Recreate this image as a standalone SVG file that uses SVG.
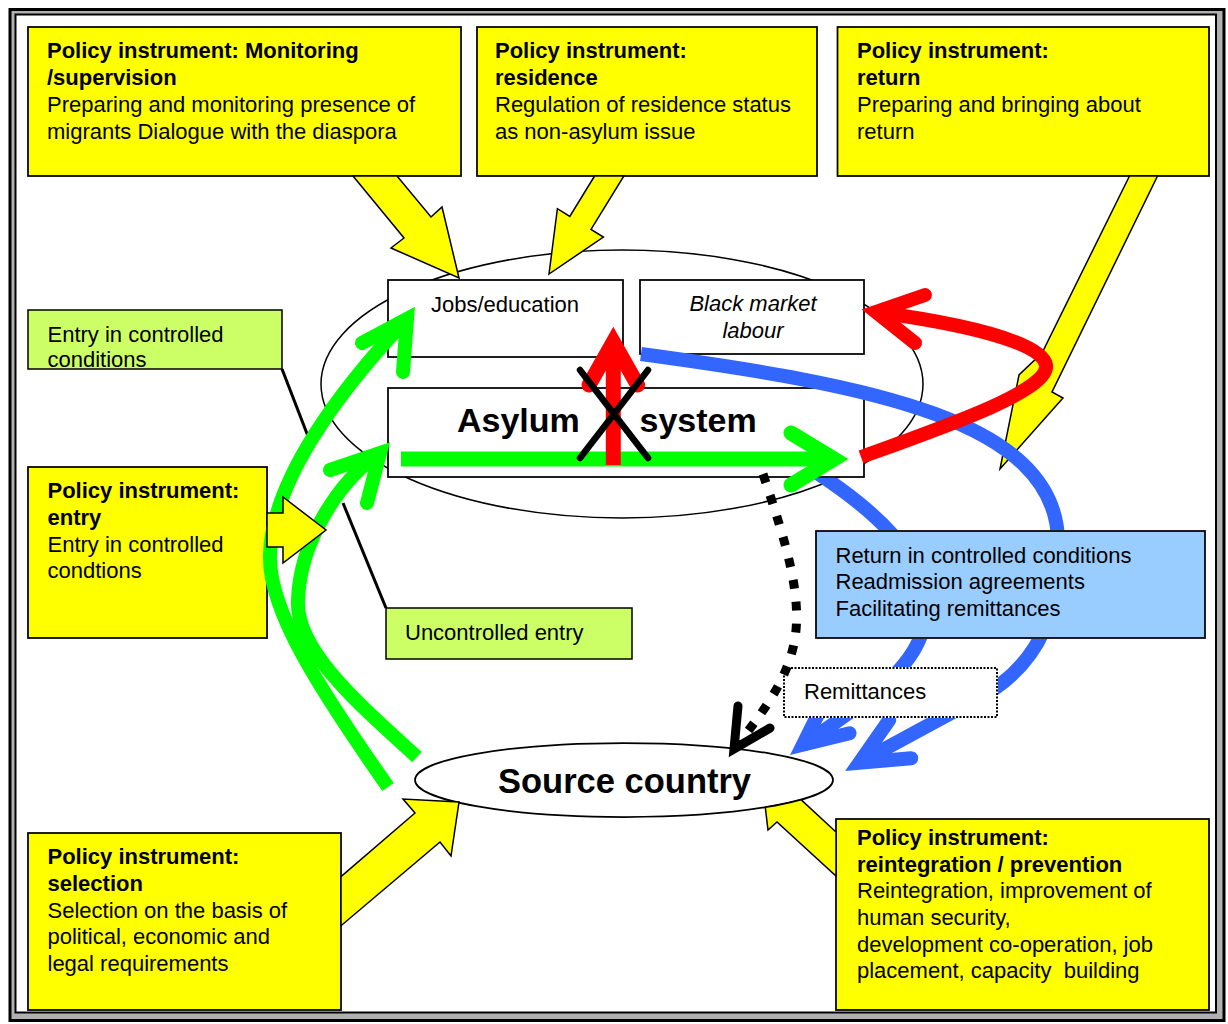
<svg xmlns="http://www.w3.org/2000/svg" width="1228" height="1024" viewBox="0 0 1228 1024">
<style>
.box{stroke:#000;stroke-width:1.75}
.y{fill:#ffff00}.w{fill:#fff}.lg{fill:#ccff66}.lb{fill:#99ccff}
.t{font-family:"Liberation Sans",Arial,Helvetica,sans-serif;font-size:22px;fill:#000}
.b{font-weight:bold}
.big{font-family:"Liberation Sans",Arial,Helvetica,sans-serif;font-size:34px;font-weight:bold;fill:#000}
.ya{fill:#ffff00;stroke:#000;stroke-width:1.5;stroke-linejoin:miter}
.g{fill:none;stroke:#00ff00;stroke-width:14}
.r{fill:none;stroke:#ff0000;stroke-width:14}
.bl{fill:none;stroke:#3366ff;stroke-width:14}
.hd{stroke-linecap:round;stroke-linejoin:miter;stroke-miterlimit:10}
.lead{stroke:#000;stroke-width:3;fill:none}
</style>
<defs>
<mask id="mBlue1" maskUnits="userSpaceOnUse" x="0" y="0" width="1228" height="1024">
<rect width="1228" height="1024" fill="#fff"/>
<rect x="815" y="530" width="391" height="109" fill="#000"/>
<rect x="783" y="667" width="215" height="51" fill="#000"/>
</mask>
<mask id="mBlue2" maskUnits="userSpaceOnUse" x="0" y="0" width="1228" height="1024">
<rect width="1228" height="1024" fill="#fff"/>
<rect x="815" y="530" width="391" height="109" fill="#000"/>
<rect x="783" y="667" width="215" height="51" fill="#000"/>
<rect x="387" y="387" width="478" height="91" fill="#000"/>
</mask>
</defs>
<rect width="1228" height="1024" fill="#fff"/>
<g id="frame">
<rect x="10" y="9.5" width="1214" height="1011" fill="#b0b0b0" stroke="#000" stroke-width="3"/>
<rect x="15.5" y="14.5" width="1200.5" height="998" fill="#fff" stroke="#000" stroke-width="2"/>
</g>
<g id="host-area"><ellipse cx="622" cy="384" rx="301" ry="134" fill="#fff" stroke="#000" stroke-width="1.5"/></g>
<g id="source-country">
<ellipse cx="624" cy="780" rx="209" ry="37" class="w" stroke="#000" stroke-width="1.75"/>
<text class="big" x="498" y="793" style="font-size:34.5px">Source country</text>
</g>
<g id="monitoring">
<rect class="box y" x="28" y="27" width="433" height="149"/>
<text class="t b" x="47" y="58">Policy instrument: Monitoring</text>
<text class="t b" x="47" y="85">/supervision</text>
<text class="t" x="47" y="112">Preparing and monitoring presence of</text>
<text class="t" x="47" y="139">migrants Dialogue with the diaspora</text>
</g>
<g id="residence">
<rect class="box y" x="477" y="27" width="340" height="149"/>
<text class="t b" x="495" y="58">Policy instrument:</text>
<text class="t b" x="495" y="85">residence</text>
<text class="t" x="495" y="112">Regulation of residence status</text>
<text class="t" x="495" y="139">as non-asylum issue</text>
</g>
<g id="return">
<rect class="box y" x="837.5" y="27" width="371.5" height="149"/>
<text class="t b" x="857" y="58">Policy instrument:</text>
<text class="t b" x="857" y="85">return</text>
<text class="t" x="857" y="112">Preparing and bringing about</text>
<text class="t" x="857" y="139">return</text>
</g>
<g id="entry">
<rect class="box y" x="28" y="467" width="239" height="171"/>
<text class="t b" x="47.5" y="498">Policy instrument:</text>
<text class="t b" x="47.5" y="525">entry</text>
<text class="t" x="47.5" y="552">Entry in controlled</text>
<text class="t" x="47.5" y="578">condtions</text>
</g>
<g id="selection">
<rect class="box y" x="28" y="833" width="313" height="177"/>
<text class="t b" x="47.5" y="864">Policy instrument:</text>
<text class="t b" x="47.5" y="890.5">selection</text>
<text class="t" x="47.5" y="917.5">Selection on the basis of</text>
<text class="t" x="47.5" y="944">political, economic and</text>
<text class="t" x="47.5" y="971">legal requirements</text>
</g>
<g id="reintegration">
<rect class="box y" x="836" y="819" width="373" height="191"/>
<text class="t b" x="857" y="845">Policy instrument:</text>
<text class="t b" x="857" y="871.5">reintegration / prevention</text>
<text class="t" x="857" y="898">Reintegration, improvement of</text>
<text class="t" x="857" y="925">human security,</text>
<text class="t" x="857" y="951.5">development co-operation, job</text>
<text class="t" x="857" y="978" style="white-space:pre">placement, capacity  building</text>
</g>
<g id="jobs">
<rect class="box w" x="388" y="280" width="235" height="77"/>
<text class="t" x="505" y="312" text-anchor="middle">Jobs/education</text>
</g>
<g id="black-market">
<rect class="box w" x="640" y="280" width="224" height="74"/>
<text class="t" x="753" y="311" text-anchor="middle" font-style="italic">Black market</text>
<text class="t" x="753" y="338" text-anchor="middle" font-style="italic">labour</text>
</g>
<g id="asylum-system">
<rect class="box w" x="388" y="388" width="476" height="89"/>
<text class="big" x="457" y="432">Asylum</text>
<text class="big" x="639.5" y="432">system</text>
</g>
<g id="label-controlled">
<rect class="lg" x="28" y="310" width="254" height="59" stroke="#000" stroke-width="1.5"/>
<text class="t" x="47.5" y="341.5">Entry in controlled</text>
<text class="t" x="47.5" y="367">conditions</text>
</g>
<g id="label-uncontrolled">
<rect class="lg" x="386" y="608" width="246" height="51" stroke="#000" stroke-width="1.5"/>
<text class="t" x="405" y="640">Uncontrolled entry</text>
</g>
<g id="return-controlled">
<rect class="box lb" x="816" y="531" width="389" height="107"/>
<text class="t" x="835.5" y="562.5">Return in controlled conditions</text>
<text class="t" x="835.5" y="589">Readmission agreements</text>
<text class="t" x="835.5" y="615.5">Facilitating remittances</text>
</g>
<g id="remittances">
<rect x="784" y="668" width="213" height="49" fill="#fff" stroke="#000" stroke-width="2" stroke-dasharray="2 1.5"/>
<text class="t" x="804" y="699">Remittances</text>
</g>
<g id="connectors">
<polygon class="ya" points="353,176 404,238 391,248 459,278 442,207 431,217 397,176"/>
<polygon class="ya" points="594.6,176 569.8,216.4 557.4,208.7 549,274 603.4,237.1 591,229.4 623.9,176"/>
<polygon class="ya" points="1129.5,176 1042,353 1019,375 1000,469 1063,398 1052,392 1157.5,176"/>
<polygon class="ya" points="341,876.6 415,813 403,799 459,802 451,856 440,842 341,925.7"/>
<path class="ya" d="M765.3,807.3 L768,830 L777,822 L836,876 L836,832 L801,799.7 A209 37 0 0 1 765.3,807.3 Z"/>
<line class="lead" x1="282" y1="369" x2="311" y2="444"/>
<line class="lead" x1="343" y1="503" x2="386" y2="608"/>
<g mask="url(#mBlue1)">
<path class="bl" d="M641,354 C870,385 1055,420 1058,540 C1062,600 1045,665 975,700 L859.4,762.7"/>
<polyline class="bl hd" points="911.2,758.2 859.4,762.7 889.2,720.1"/>
</g>
<g mask="url(#mBlue2)">
<path class="bl" d="M800,462 C870,505 935,560 925,620 C918,670 860,705 803,745"/>
<polyline class="bl hd" points="849.6,733.2 803,744.6 824.3,701.6"/>
</g>
<path d="M763,474 C785,540 805,600 793,648 C783,690 755,720 736,748" fill="none" stroke="#000" stroke-width="9" stroke-dasharray="9 13"/>
<polyline points="738,706 734,749 770,728" fill="none" stroke="#000" stroke-width="9" class="hd"/>
<path class="g" d="M388,787 C320,690 268,610 270,555 C272,480 340,390 405,321"/>
<polyline class="g hd" points="362,343 407,319 403,372"/>
<path class="g" d="M417,757 C360,705 295,650 298,600 C300,540 340,480 380,453"/>
<polyline class="g hd" points="330,470 380,453 367,503"/>
<polygon class="ya" points="267,513 283,513 283,497 326,530 283,563 283,547 267,547"/>
<line x1="401" y1="459" x2="834" y2="459" stroke="#00ff00" stroke-width="15"/>
<polyline points="791,433 834,459 791,485" fill="none" stroke="#00ff00" stroke-width="15" class="hd"/>
<path class="r" d="M861,457 C950,425 1050,390 1046,365 C1042,340 950,322 876,312"/>
<polyline class="r hd" points="925,295 876,312 915,343"/>
<line x1="613.3" y1="465" x2="613.3" y2="345" stroke="#ff0000" stroke-width="15"/>
<polyline points="589,385 613.3,342 637.6,385" fill="none" stroke="#ff0000" stroke-width="15" class="hd"/>
<g stroke="#000" stroke-width="6.5" stroke-linecap="round">
<line x1="580" y1="370" x2="648" y2="458"/>
<line x1="648" y1="370" x2="580" y2="458"/>
</g>
</g>
</svg>
